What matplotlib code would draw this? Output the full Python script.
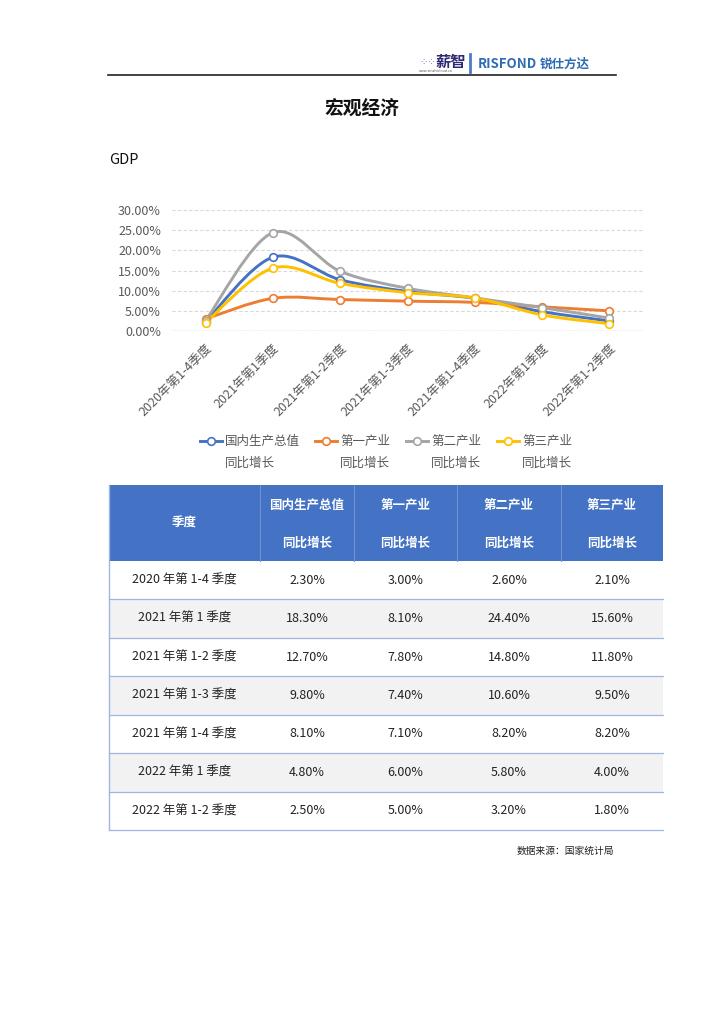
import matplotlib
matplotlib.use("Agg")
import matplotlib.pyplot as plt
from matplotlib.path import Path
from matplotlib.patches import PathPatch, Rectangle
from matplotlib.lines import Line2D
import numpy as np

plt.rcParams['font.family'] = ['Noto Sans CJK SC', 'DejaVu Sans']

# data
quarters = ["2020年第1-4季度", "2021年第1季度", "2021年第1-2季度", "2021年第1-3季度",
            "2021年第1-4季度", "2022年第1季度", "2022年第1-2季度"]
table_quarters = ["2020 年第 1-4 季度", "2021 年第 1 季度", "2021 年第 1-2 季度", "2021 年第 1-3 季度",
                  "2021 年第 1-4 季度", "2022 年第 1 季度", "2022 年第 1-2 季度"]
gdp = [2.3, 18.3, 12.7, 9.8, 8.1, 4.8, 2.5]
primary = [3.0, 8.1, 7.8, 7.4, 7.1, 6.0, 5.0]
secondary = [2.6, 24.4, 14.8, 10.6, 8.2, 5.8, 3.2]
tertiary = [2.1, 15.6, 11.8, 9.5, 8.2, 4.0, 1.8]
series_names = ["国内生产总值", "第一产业", "第二产业", "第三产业"]
yticks = [0, 5, 10, 15, 20, 25, 30]

colors = ["#4472C4", "#ED7D31", "#A5A5A5", "#FFC000"]
W, H = 724, 1024


def smooth_path(xs, ys):
    # excel-like catmull-rom smoothing as cubic bezier segments
    pts = np.column_stack([xs, ys]).astype(float)
    n = len(pts)
    verts = [pts[0]]
    codes = [Path.MOVETO]
    for i in range(n - 1):
        p0 = pts[i - 1] if i > 0 else pts[i]
        p1 = pts[i]
        p2 = pts[i + 1]
        p3 = pts[i + 2] if i + 2 < n else pts[i + 1]
        c1 = p1 + (p2 - p0) / 6.0
        c2 = p2 - (p3 - p1) / 6.0
        verts += [c1, c2, p2]
        codes += [Path.CURVE4] * 3
    return Path(verts, codes)


fig = plt.figure(figsize=(W / 100, H / 100), dpi=100)

# overlay axes in pixel coords for page elements
page = fig.add_axes([0, 0, 1, 1])
page.set_xlim(0, W)
page.set_ylim(H, 0)
page.axis("off")

# header
page.plot([108, 616], [75, 75], color="#222222", lw=1.2)
page.text(419, 62, "⁘⁘", fontsize=7, color="#6b6bb0", va="center", ha="left")
page.text(436, 62, "薪智", fontsize=11, fontweight="bold", color="#2d2a73", va="center", ha="left")
page.text(419, 71, "www.xinzhicloud.cn", fontsize=2.6, color="#555555", va="center", ha="left")
page.plot([470, 470], [54, 72], color="#4a7cc7", lw=2)
page.text(478, 64, "RISFOND", fontsize=9.5, fontweight="bold", color="#2f6db3", va="center", ha="left")
page.text(540, 64, "锐仕方达", fontsize=9, fontweight="bold", color="#2f6db3", va="center", ha="left")

page.text(362, 108, "宏观经济", fontsize=13.5, fontweight="bold", color="#111111", ha="center", va="center")
page.text(109, 160, "GDP", fontsize=10.5, color="#111111", ha="left", va="center")

# chart
ax = fig.add_axes([172 / W, 1 - 331 / H, (643 - 172) / W, (331 - 210) / H])
x = np.arange(len(quarters))
for vals, col in zip([gdp, primary, secondary, tertiary], colors):
    ax.add_patch(PathPatch(smooth_path(x, vals), facecolor="none", edgecolor=col,
                           lw=2.1, capstyle="round", joinstyle="round", zorder=3))
for vals, col in zip([gdp, primary, secondary, tertiary], colors):
    ax.plot(x, vals, "o", ms=5.5, mfc="white", mec=col, mew=1.2, zorder=4, clip_on=False)

ax.set_xlim(-0.5, len(quarters) - 0.5)
ax.set_ylim(0, 30)
ax.set_yticks(yticks)
ax.set_yticklabels([f"{v:.2f}%" for v in yticks])
ax.set_xticks(x)
ax.set_xticklabels(quarters, rotation=45, ha="right", rotation_mode="anchor")
ax.tick_params(axis="both", length=0, labelsize=9, labelcolor="#595959")
ax.tick_params(axis="x", pad=8)
ax.tick_params(axis="y", pad=8)
for s in ax.spines.values():
    s.set_visible(False)
ax.grid(axis="y", color="#d9d9d9", lw=0.8, ls=(0, (3, 2)))
ax.axhline(0, color="#d9d9d9", lw=1)
ax.set_axisbelow(True)

# legend
leg_x = [200, 315, 406, 497]
for lx, name, col in zip(leg_x, series_names, colors):
    page.add_line(Line2D([lx, lx + 22], [441, 441], color=col, lw=2.1))
    page.plot(lx + 11, 441, "o", ms=5.5, mfc="white", mec=col, mew=1.2)
    page.text(lx + 25, 441, name, fontsize=9, color="#595959", va="center", ha="left")
    page.text(lx + 25, 463, "同比增长", fontsize=9, color="#595959", va="center", ha="left")

# table
col_edges = [109, 260, 354, 457, 561, 663]
top, head_bot, bot = 485, 561, 830
row_h = (bot - head_bot) / len(table_quarters)
page.add_patch(Rectangle((col_edges[0], top), col_edges[-1] - col_edges[0], head_bot - top,
                         facecolor="#4472C4", edgecolor="none"))
for ce in col_edges[1:-1]:
    page.plot([ce, ce], [top, head_bot], color="#6f93d3", lw=0.8)
head_cx = [(a + b) / 2 for a, b in zip(col_edges[:-1], col_edges[1:])]
page.text(head_cx[0], (top + head_bot) / 2, "季度", fontsize=9, fontweight="bold",
          color="white", ha="center", va="center")
for cx, name in zip(head_cx[1:], series_names):
    page.text(cx, 505, name, fontsize=9, fontweight="bold", color="white", ha="center", va="center")
    page.text(cx, 543, "同比增长", fontsize=9, fontweight="bold", color="white", ha="center", va="center")

for i, q in enumerate(table_quarters):
    y0 = head_bot + i * row_h
    if i % 2 == 1:
        page.add_patch(Rectangle((col_edges[0], y0), col_edges[-1] - col_edges[0], row_h,
                                 facecolor="#f2f2f2", edgecolor="none"))
    page.plot([col_edges[0], col_edges[-1]], [y0 + row_h, y0 + row_h], color="#9fb6e0", lw=0.9)
    cells = [q] + [f"{s[i]:.2f}%" for s in (gdp, primary, secondary, tertiary)]
    for cx, txt in zip(head_cx, cells):
        page.text(cx, y0 + row_h / 2, txt, fontsize=9, color="#222222", ha="center", va="center")
page.plot([col_edges[0], col_edges[0]], [top, bot], color="#9fb6e0", lw=1)

page.text(614, 851, "数据来源：国家统计局", fontsize=7, color="#222222", ha="right", va="center")

fig.savefig("out.png", dpi=100)
